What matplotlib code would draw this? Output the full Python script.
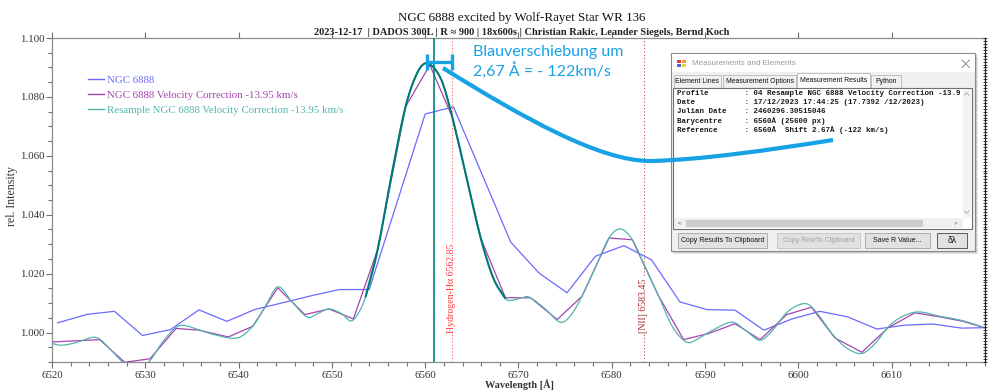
import numpy as np
import matplotlib
matplotlib.use("Agg")
import matplotlib.pyplot as plt
from matplotlib.lines import Line2D
from matplotlib.path import Path
from matplotlib.patches import PathPatch, Rectangle
from matplotlib.transforms import Bbox, TransformedBbox
from matplotlib.ticker import MultipleLocator, FixedLocator, FixedFormatter

W, H = 989, 392
SERIF = ["Liberation Serif", "DejaVu Serif"]
SANS = ["Liberation Sans", "DejaVu Sans"]
MONO = ["Liberation Mono", "DejaVu Sans Mono"]

# ---------------------------------------------------------------- data
# NGC 6888, observed profile
obs_wl = [6520.6, 6523.8, 6526.7, 6529.7, 6532.7, 6535.75, 6538.75, 6541.7,
          6544.7, 6547.8, 6550.8, 6554.0, 6560.0, 6563.03, 6569.17, 6572.2,
          6575.2, 6578.25, 6581.3, 6584.25, 6587.3, 6590.2, 6593.2, 6596.3,
          6599.3, 6602.3, 6605.3, 6608.4, 6611.4, 6614.4, 6617.5, 6620.5]
obs_int = [1.0033, 1.0062, 1.0072, 0.9990, 1.0010, 1.0077, 1.0038, 1.0078,
           1.0101, 1.0125, 1.0146, 1.0146, 1.0742, 1.0766, 1.0307, 1.0202,
           1.0135, 1.0259, 1.0295, 1.0247, 1.0104, 1.0078, 1.0076, 1.0008,
           1.0046, 1.0072, 1.0053, 1.0012, 1.0025, 1.0029, 1.0015, 1.0017]

# NGC 6888 after velocity correction (-13.95 km/s)
vc_wl = [6520.0, 6522.6, 6525.1, 6527.8, 6530.5, 6533.3, 6535.75, 6538.9,
         6541.5, 6544.2, 6547.1, 6549.7, 6552.3, 6554.9, 6557.9, 6560.5,
         6562.9, 6565.95, 6568.6, 6571.3, 6574.15, 6576.8, 6579.7, 6582.2,
         6585.0, 6587.7, 6590.4, 6593.2, 6595.9, 6598.75, 6601.4, 6603.9,
         6606.8, 6609.6, 6612.5, 6615.2, 6617.65, 6620.0]
vc_int = [0.9968, 0.9972, 0.9976, 0.9899, 0.9911, 1.0014, 1.0008, 0.9985,
          1.0021, 1.0152, 1.0061, 1.0080, 1.0046, 1.0281, 1.0767, 1.0908,
          1.0732, 1.0321, 1.0118, 1.0118, 1.0044, 1.0123, 1.0321, 1.0315,
          1.0125, 0.9976, 0.9997, 1.0030, 0.9976, 1.0061, 1.0086, 0.9982,
          0.9933, 1.0016, 1.0067, 1.0053, 1.0038, 1.0016]

# resampled velocity-corrected profile
rs_wl = [6520.0, 6521.0, 6522.6, 6524.4, 6525.1, 6526.5, 6527.8, 6529.1,
         6530.5, 6531.9, 6533.3, 6534.2, 6535.75, 6537.5, 6539.9, 6541.5,
         6542.8, 6544.2, 6545.7, 6547.4, 6548.5, 6549.7, 6551.0, 6552.2,
         6553.6, 6554.9, 6556.4, 6557.9, 6559.2, 6560.25, 6561.7, 6562.9,
         6564.4, 6565.95, 6567.3, 6568.6, 6569.2, 6570.3, 6571.1, 6572.8,
         6574.5, 6575.6, 6576.8, 6578.3, 6579.7, 6580.9, 6582.2, 6583.6,
         6585.0, 6586.5, 6588.05, 6589.3, 6590.4, 6592.9, 6594.4, 6595.9,
         6597.3, 6598.75, 6600.35, 6601.4, 6603.9, 6605.3, 6606.8, 6608.2,
         6609.6, 6611.0, 6612.8, 6615.2, 6617.65, 6620.0]
rs_int = [0.9963, 0.9957, 0.9966, 0.9984, 0.9978, 0.9935, 0.9893, 0.9875,
          0.9905, 0.9970, 1.0018, 1.0024, 1.0009, 0.9992, 0.9982, 1.0021,
          1.0085, 1.0155, 1.0105, 1.0052, 1.0065, 1.0080, 1.0065, 1.0041,
          1.0120, 1.0281, 1.0535, 1.0767, 1.0885, 1.0914, 1.0860, 1.0732,
          1.0530, 1.0321, 1.0185, 1.0115, 1.0109, 1.0117, 1.0121, 1.0082,
          1.0035, 1.0058, 1.0123, 1.0225, 1.0321, 1.0352, 1.0315, 1.0220,
          1.0125, 1.0020, 0.9967, 0.9980, 1.0001, 1.0035, 1.0006, 0.9974,
          1.0010, 1.0068, 1.0097, 1.0088, 0.9985, 0.9945, 0.9929, 0.9962,
          1.0018, 1.0052, 1.0070, 1.0055, 1.0040, 1.0016]

series_names = ["NGC 6888",
                "NGC 6888 Velocity Correction -13.95 km/s",
                "Resample NGC 6888 Velocity Correction -13.95 km/s"]

halpha_wl = 6562.85
nii_wl = 6583.45
barycentre_wl = 6560.9
line_fit_range = (6553.6, 6568.6)
shift_A = 2.67
shift_kms = -122

wl_ticks = [6520, 6530, 6540, 6550, 6560, 6570, 6580, 6590, 6600, 6610]
wl_tick_labels = [str(v) for v in wl_ticks]
int_ticks = [1.000, 1.020, 1.040, 1.060, 1.080, 1.100]
int_tick_labels = ["1.000", "1.020", "1.040", "1.060", "1.080", "1.100"]

C_OBS = "#6a6aff"
C_VC = "#a543b0"
C_RS = "#52b5ad"
C_FIT = "#007a76"
C_BLUE = "#17a2e6"


def smooth_path(x, y):
    """Cubic Bezier path running through every (x, y) sample."""
    x = np.asarray(x, float)
    y = np.asarray(y, float)
    m = np.empty_like(y)
    m[1:-1] = (y[2:] - y[:-2]) / (x[2:] - x[:-2])
    m[0] = (y[1] - y[0]) / (x[1] - x[0])
    m[-1] = (y[-1] - y[-2]) / (x[-1] - x[-2])
    verts = [(x[0], y[0])]
    codes = [Path.MOVETO]
    for i in range(len(x) - 1):
        h = (x[i + 1] - x[i]) / 3.0
        verts += [(x[i] + h, y[i] + m[i] * h),
                  (x[i + 1] - h, y[i + 1] - m[i + 1] * h),
                  (x[i + 1], y[i + 1])]
        codes += [Path.CURVE4] * 3
    return Path(verts, codes)


fig = plt.figure(figsize=(W / 100, H / 100), dpi=100)
fig.patch.set_facecolor("white")
ax = fig.add_axes([52 / W, 1 - 362 / H, 933 / W, 324 / H])
ax.set_xlim(6520, 6620)
ax.set_ylim(0.990, 1.100)

# reference lines
ax.axvline(halpha_wl, color="#ff5a5a", lw=0.8, ls=(0, (1, 2)), zorder=1)
ax.axvline(nii_wl, color="#b84a4a", lw=0.8, ls=(0, (1, 2)), zorder=1)

# spectra
ax.plot(obs_wl, obs_int, color=C_OBS, lw=0.9, zorder=3)
ax.plot(vc_wl, vc_int, color=C_VC, lw=0.9, zorder=3)
ax.add_patch(PathPatch(smooth_path(rs_wl, rs_int), fill=False,
                       edgecolor=C_RS, lw=0.9, zorder=4))
sel = [i for i, w in enumerate(rs_wl) if line_fit_range[0] <= w <= line_fit_range[1]]
ax.add_patch(PathPatch(smooth_path([rs_wl[i] for i in sel], [rs_int[i] for i in sel]),
                       fill=False, edgecolor=C_FIT, lw=1.5, zorder=5))
ax.axvline(barycentre_wl, color="#008580", lw=1.2, zorder=6)

# line identifications
for wl, txt, col in [(halpha_wl, "Hydrogen-H\u03b1 6562.85", "#ff3a3a"),
                     (nii_wl, "[NII] 6583.45", "#a52a2a")]:
    ax.text(wl, 1.0, txt, rotation=90, ha="center", va="bottom", color=col,
            family=SERIF, fontsize=7.1, zorder=7,
            bbox=dict(facecolor="white", edgecolor="none", pad=0.6))

# shift bar
ybar = 1.0919
cap = 0.00266
ax.plot([halpha_wl - shift_A, halpha_wl], [ybar, ybar], color=C_BLUE, lw=2.4,
        solid_capstyle="butt", zorder=8, clip_on=False)
for xb in (halpha_wl - shift_A, halpha_wl):
    ax.plot([xb, xb], [ybar - cap, ybar + cap], color=C_BLUE, lw=2.4,
            solid_capstyle="butt", zorder=8, clip_on=False)

# axes styling
ax.xaxis.set_major_locator(FixedLocator(wl_ticks))
ax.xaxis.set_major_formatter(FixedFormatter(wl_tick_labels))
ax.xaxis.set_minor_locator(MultipleLocator(2))
ax.yaxis.set_major_locator(FixedLocator(int_ticks))
ax.yaxis.set_major_formatter(FixedFormatter(int_tick_labels))
ax.yaxis.set_minor_locator(MultipleLocator(0.005))
ax.tick_params(which="both", direction="out", color="#6f6f6f", width=0.8,
               labelcolor="#333333", labelsize=7.8)
ax.tick_params(which="major", length=4)
ax.tick_params(which="minor", length=3)
ax.tick_params(axis="x", which="major", top=True, pad=2.5)
ax.tick_params(axis="y", pad=1.5)
for lab in ax.get_xticklabels() + ax.get_yticklabels():
    lab.set_family(SERIF)
for s in ("left", "top", "bottom"):
    ax.spines[s].set_color("#8c8c8c")
    ax.spines[s].set_linewidth(0.9)
ax.spines["right"].set_color("#222222")

axr = ax.twinx()
axr.set_ylim(ax.get_ylim())
axr.yaxis.set_major_locator(MultipleLocator(0.001))
axr.tick_params(axis="y", direction="inout", length=2.5, width=0.6,
                color="#222222", labelright=False)
for s in ("left", "top", "bottom"):
    axr.spines[s].set_visible(False)
axr.spines["right"].set_color("#222222")

ax.set_ylabel("rel. Intensity", family=SERIF, fontsize=8.6, color="#333333")
ax.yaxis.set_label_coords((11.5 - 52) / 933, (362 - 196) / 324)
ax.yaxis.label.set(va="center", ha="center")
ax.set_xlabel("Wavelength [\u00c5]", family=SERIF, fontsize=7.4,
              fontweight="bold", color="#333333")
ax.xaxis.set_label_coords((519 - 52) / 933, (362 - 385) / 324)
ax.xaxis.label.set(va="center", ha="center")

handles = [Line2D([], [], color=C_OBS, lw=1.0),
           Line2D([], [], color=C_VC, lw=1.0),
           Line2D([], [], color=C_RS, lw=1.0)]
ax.legend(handles, series_names, loc="upper left",
          bbox_to_anchor=(88 / W, 1 - 75.5 / H), bbox_transform=fig.transFigure,
          frameon=False, prop=dict(family=SERIF, size=7.8), handlelength=1.45,
          handletextpad=0.3, labelspacing=0.48, borderpad=0, borderaxespad=0,
          labelcolor="linecolor")

# ---------------------------------------------------------------- overlay (pixel space)
ov = fig.add_axes([0, 0, 1, 1], zorder=5)
ov.set_xlim(0, W)
ov.set_ylim(H, 0)
ov.axis("off")
ov.patch.set_visible(False)

ov.text(522, 21, "NGC 6888 excited by Wolf-Rayet Star WR 136", ha="center",
        va="baseline", family=SERIF, fontsize=9.4, color="#111111")
ov.text(522, 34.5,
        "2023-12-17  | DADOS 300L | R \u2248 900 | 18x600s | Christian Rakic, Leander Siegels, Bernd Koch",
        ha="center", va="baseline", family=SERIF, fontsize=7.5, fontweight="bold",
        color="#222222")


def rect(x0, y0, x1, y1, fc, ec="none", lw=0.8, z=1, alpha=1.0):
    ov.add_patch(Rectangle((x0, y0), x1 - x0, y1 - y0, facecolor=fc,
                           edgecolor=ec, lw=lw, zorder=z, alpha=alpha))


# dialog window
rect(673, 55, 978, 254, "black", z=1, alpha=0.10)
rect(672, 54, 976.5, 252.5, "black", z=1, alpha=0.10)
rect(671, 53, 975, 251, "#f0f0f0", ec="#8a8a8a", z=2)
rect(671.5, 53.5, 974.5, 72, "white", z=3)
for (ix, iy, c) in [(677, 59.5, "#d83b3b"), (681.5, 59.5, "#f0a030"),
                    (677, 63.5, "#3b6fd8"), (681.5, 63.5, "#f2cf3a")]:
    rect(ix, iy, ix + 4, iy + 3.7, c, z=4)
ov.text(692, 63.5, "Measurements and Elements", ha="left", va="center",
        family=SANS, fontsize=5.8, color="#9a9a9a", zorder=4)
ov.plot([962, 969.5], [60, 67.5], color="#8a8a8a", lw=0.7, zorder=4)
ov.plot([962, 969.5], [67.5, 60], color="#8a8a8a", lw=0.7, zorder=4)

tabs = [("Element Lines", 673.5, 721), ("Measurement Options", 723, 796),
        ("Measurement Results", 797, 870), ("Python", 871, 901)]
for name, x0, x1 in tabs:
    chosen = name == "Measurement Results"
    y0 = 72.5 if chosen else 75
    rect(x0, y0, x1, 88, "#fbfbfb" if chosen else "#f0f0f0", ec="#b8b8b8",
         lw=0.6, z=3)
    ov.text((x0 + x1) / 2, (y0 + 88) / 2 + 0.3, name, ha="center", va="center",
            family=SANS, fontsize=4.95, color="#111111", zorder=4)

# results text box
rect(673, 88, 972, 229, "white", ec="#6f6f6f", lw=0.8, z=5)
rect(962.5, 88.8, 971.3, 218, "#f3f3f3", z=6)
rect(673.8, 218, 962.5, 228.3, "#f0f0f0", z=6)
rect(686, 219.8, 923, 226.5, "#cdcdcd", z=7)
for sx, sy, s in [(680, 223, "<"), (955, 223, ">")]:
    ov.text(sx, sy, s, ha="center", va="center", family=SANS, fontsize=4.5,
            color="#555555", zorder=8)
ov.plot([964.5, 966.7, 968.9], [95, 92.8, 95], color="#a0a0a0", lw=0.6, zorder=8)
ov.plot([964.5, 966.7, 968.9], [211, 213.2, 211], color="#a0a0a0", lw=0.6, zorder=8)

info_lines = [
    "Profile        : 04 Resample NGC 6888 Velocity Correction -13.95 km/s",
    "Date           : 17/12/2023 17:44:25 (17.7392 /12/2023)",
    "Julian Date    : 2460296.30515046",
    "Barycentre     : 6560\u00c5 (25600 px)",
    "Reference      : 6560\u00c5  Shift 2.67\u00c5 (-122 km/s)",
]
# visible part of the results box, in figure pixels (origin bottom-left)
text_box = TransformedBbox(Bbox([[674 / W, (H - 217) / H], [959.5 / W, (H - 89) / H]]),
                           fig.transFigure)
for k, line in enumerate(info_lines):
    t = ov.text(677, 93.3 + 9.2 * k, line, ha="left", va="center", family=MONO,
                fontsize=5.45, fontweight="bold", color="#1a1a1a", zorder=8)
    t.set_clip_on(True)
    t.set_clip_box(text_box)

buttons = [("Copy Results To Clipboard", 678, 767, "#111111", "#adadad"),
           ("Copy RowTo Clipboard", 777, 860, "#a0a0a0", "#c8c8c8"),
           ("Save R Value...", 865, 930, "#111111", "#adadad"),
           ("\u03b4\u03bb", 937, 967, "#111111", "#5a5a5a")]
for name, x0, x1, tc, ec in buttons:
    rect(x0, 233, x1, 248, "#e1e1e1", ec=ec, lw=0.7, z=3)
    ov.text((x0 + x1) / 2, 240.8, name, ha="center", va="center", family=SANS,
            fontsize=6.3 if name.startswith("\u03b4") else 5.0, color=tc, zorder=4)

# annotation: blue shift arrow and note
arrow = Path([(443, 68), (523, 118), (600, 161), (650, 161),
              (700, 160), (770, 150), (833, 140)],
             [Path.MOVETO, Path.CURVE4, Path.CURVE4, Path.CURVE4,
              Path.CURVE4, Path.CURVE4, Path.CURVE4])
ov.add_patch(PathPatch(arrow, fill=False, edgecolor=C_BLUE, lw=3.0,
                       capstyle="butt", zorder=20))
ov.text(473, 56, "Blauverschiebung um", ha="left", va="baseline",
        family=["Lato", "DejaVu Sans"], fontsize=11.5, color=C_BLUE, zorder=20)
ov.text(473, 77, f"{shift_A:.2f}".replace(".", ",") + f" \u00c5 = - {abs(shift_kms)}km/s",
        ha="left", va="baseline", family=["Lato", "DejaVu Sans"], fontsize=11.5,
        color=C_BLUE, zorder=20)

fig.savefig("out.png", dpi=100, facecolor="white")
